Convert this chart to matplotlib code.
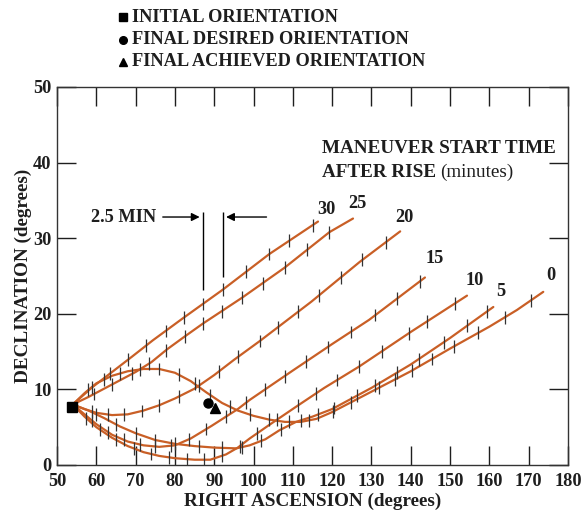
import numpy as np
import matplotlib
matplotlib.use("Agg")
import matplotlib.pyplot as plt

# curve paths (right ascension, declination)
ra_30 = [54, 59, 64, 69, 74.4, 82, 92.2, 104, 116.4]
dec_30 = [8, 10.3, 12.3, 14.3, 16.5, 19.4, 23.2, 27.9, 32.2]
ra_25 = [54, 58, 62, 66, 70, 74, 78, 82.5, 87.1, 97, 107.9, 119.3, 125.3]
dec_25 = [8, 9.0, 10.1, 11.2, 12.3, 13.6, 15.3, 17, 18.7, 22.1, 26.1, 30.8, 32.6]
ra_20 = [54, 57, 60, 64, 68, 72, 76, 80, 85, 90, 95, 101.6, 114.7, 127.1, 137.3]
dec_20 = [8, 7.4, 6.9, 6.6, 6.7, 7.2, 7.9, 8.8, 10.1, 11.9, 13.9, 16.4, 21.6, 26.9, 30.9]
ra_15 = [54, 57, 60, 64, 68, 72, 76, 80, 84, 89.4, 96, 99, 110, 120, 129.4, 143.6]
dec_15 = [8, 6.7, 5.4, 4.0, 3.1, 2.6, 2.4, 2.6, 3.5, 5.2, 7.4, 8.6, 12.5, 16, 19.2, 24.8]
ra_10 = [54, 57, 60, 64, 68, 72, 76, 80, 85, 89, 93, 96, 99, 104, 110.8, 118, 126.8, 140, 154.3]
dec_10 = [8, 6.4, 5.0, 3.6, 2.5, 1.7, 1.2, 0.9, 0.7, 0.7, 1.4, 2.3, 3.5, 5.3, 7.7, 10.2, 13, 17.6, 22.4]
ra_5 = [54, 58, 62, 66, 70, 75, 80, 85, 90, 95.6, 99, 103, 106.6, 110.8, 115, 120, 130, 140, 150, 161]
dec_5 = [8, 7.2, 6.2, 5.1, 4.2, 3.3, 2.8, 2.5, 2.3, 2.2, 2.6, 3.4, 4.6, 5.7, 6.4, 7.4, 10.2, 13.3, 16.8, 20.9]
ra_0 = [54, 57, 60, 64, 68, 72, 76, 80, 84, 88, 92, 96, 100, 104, 108, 112, 116, 120, 130, 140, 150, 160, 167, 173.7]
dec_0 = [8, 9.5, 10.8, 11.8, 12.4, 12.7, 12.7, 12.2, 11.1, 9.6, 8.2, 7.2, 6.5, 6.0, 5.7, 5.7, 6.1, 7.0, 9.7, 12.4, 15.4, 18.3, 20.5, 22.9]

# 2.5 minute time marks along each curve (right ascension)
ticks_30 = [59, 63.6, 68.1, 72.7, 77.6, 82.2, 87.1, 92.2, 98.2, 104, 109.1, 115]
ticks_25 = [59.4, 64, 69.1, 73.3, 77.6, 82.5, 87.1, 91.9, 97, 102.3, 107.9, 113.7, 119.3]
ticks_20 = [59, 63, 67, 71.5, 76, 81, 86, 91.1, 96.1, 101.6, 106.2, 111.3, 116.7, 122.2, 127.7, 133.6]
ticks_15 = [59, 63, 67, 71, 75, 79, 83.5, 88, 93, 98.2, 102.9, 107.9, 113.4, 118.9, 124.7, 131, 136.5, 142.4]
ticks_10 = [57.5, 61, 65, 69.5, 74, 78.5, 83, 87.5, 92, 96.5, 101, 106, 111.2, 115.9, 121.3, 126.8, 132.7, 139.5, 144.1, 151.3]
ticks_5 = [60, 65, 70, 75, 80, 86, 92, 97, 102, 107, 112, 116.5, 120.5, 126.4, 131, 136.5, 142, 148.4, 154.3, 159.3]
ticks_0 = [58, 62, 66, 71, 76, 81, 85, 89, 94, 99, 104, 109, 114, 120.1, 124.7, 131.9, 136.1, 140.3, 145.4, 150.9, 157.2, 164, 170.6]

labels = ["30", "25", "20", "15", "10", "5", "0"]
label_ra = [118.5, 126.5, 138.5, 146.1, 156.3, 162.9, 175.7]
label_dec = [33.8, 34.6, 32.8, 27.3, 24.4, 22.9, 25.0]

initial = (53.9, 7.7)
desired = (88.5, 8.2)
achieved = (90.2, 7.6)

ra_ticks = list(range(50, 190, 10))
dec_ticks = list(range(0, 60, 10))

curves = [(ra_30, dec_30, ticks_30), (ra_25, dec_25, ticks_25), (ra_20, dec_20, ticks_20),
          (ra_15, dec_15, ticks_15), (ra_10, dec_10, ticks_10), (ra_5, dec_5, ticks_5),
          (ra_0, dec_0, ticks_0)]

SERIF = "Liberation Serif"
CURVE_COLOR = "#c95f26"
INK = "#1e1e1e"
FS = 13.2

fig = plt.figure(figsize=(5.83, 5.15), dpi=100)
ax = fig.add_axes([0.0978, 0.0971, 0.8765, 0.734])
ax.set_xlim(50, 180)
ax.set_ylim(0, 50)

for ra, dec, tk in curves:
    ax.plot(ra, dec, color=CURVE_COLOR, lw=1.6, solid_capstyle="round", zorder=2)
    tk_dec = np.interp(tk, ra, dec)
    ax.vlines(tk, tk_dec - 0.85, tk_dec + 0.85, color="#333333", lw=0.9, zorder=3)

for lab, x, y in zip(labels, label_ra, label_dec):
    ax.text(x, y, lab, ha="center", va="center", fontsize=FS, family=SERIF,
            fontweight="bold", color=INK)

ax.plot(*initial, marker="s", ms=6.5, color="black", zorder=5)
ax.plot(*desired, marker="o", ms=6.5, color="black", zorder=5)
ax.plot(*achieved, marker="^", ms=6.5, color="black", zorder=5)

# 2.5 MIN annotation
ax.vlines([87.1, 92.2], [23.2, 24.9], [33.5, 33.5], color="black", lw=1.0)
ax.annotate("", xy=(87.0, 32.8), xytext=(76.2, 32.8),
            arrowprops=dict(arrowstyle="-|>", color="black", lw=1.0, mutation_scale=12))
ax.annotate("", xy=(92.3, 32.8), xytext=(104.0, 32.8),
            arrowprops=dict(arrowstyle="-|>", color="black", lw=1.0, mutation_scale=12))
ax.text(75.2, 32.8, "2.5 MIN", ha="right", va="center", fontsize=FS, family=SERIF,
        fontweight="bold", color=INK)

ax.text(117.3, 41.9, "MANEUVER START TIME", ha="left", va="center", fontsize=FS + 0.6,
        family=SERIF, fontweight="bold", color=INK)
rise = ax.text(117.3, 38.7, "AFTER RISE", ha="left", va="center", fontsize=FS + 0.6,
               family=SERIF, fontweight="bold", color=INK)
ax.annotate("(minutes)", xy=(1, 0.5), xycoords=rise, xytext=(3.5, 0),
            textcoords="offset points", ha="left", va="center",
            fontsize=FS + 0.6, family=SERIF, color=INK)

ax.set_xticks(ra_ticks)
ax.set_yticks(dec_ticks)
ax.tick_params(direction="in", length=14, width=1.0, top=True, right=True,
               labelsize=FS, colors=INK)
ax.tick_params(axis="x", pad=6)
ax.tick_params(axis="y", pad=4)
for lab in ax.get_xticklabels() + ax.get_yticklabels():
    lab.set_family(SERIF)
    lab.set_fontweight("bold")
for sp in ax.spines.values():
    sp.set_linewidth(1.0)
    sp.set_color("#333333")

ax.set_xlabel("RIGHT ASCENSION (degrees)", fontsize=13.8, family=SERIF,
              fontweight="bold", labelpad=2, color=INK)
ax.set_ylabel("DECLINATION (degrees)", fontsize=13.8, family=SERIF,
              fontweight="bold", labelpad=1, color=INK)

# legend block at the top
leg_items = [("s", "INITIAL ORIENTATION"), ("o", "FINAL DESIRED ORIENTATION"),
             ("^", "FINAL ACHIEVED ORIENTATION")]
for i, (mk, txt) in enumerate(leg_items):
    yf = 1 - (17 + 22.5 * i) / 515
    ax.plot([123 / 583], [yf], marker=mk, ms=5.5, color="black",
            transform=fig.transFigure, clip_on=False)
    fig.text(132 / 583, yf, txt, ha="left", va="center", fontsize=FS,
             family=SERIF, fontweight="bold", color=INK)

fig.savefig("out.png", dpi=100, facecolor="white")
